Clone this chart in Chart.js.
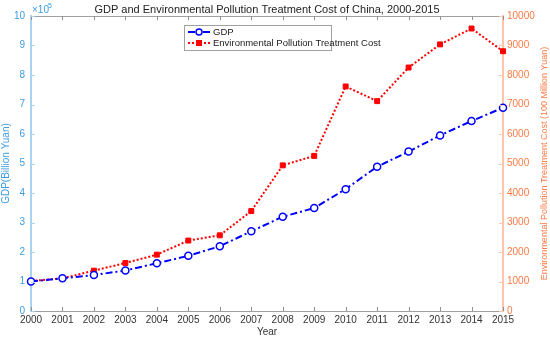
<!DOCTYPE html>
<html>
<head>
<meta charset="utf-8">
<script src="https://cdn.jsdelivr.net/npm/chart.js@4"></script>
<style>
  html, body { margin: 0; padding: 0; background: #fff; }
  #wrap { width: 550px; height: 339px; position: relative; }
</style>
</head>
<body>
<div id="wrap"><canvas id="chart"></canvas></div>
<script>
const years = ['2000','2001','2002','2003','2004','2005','2006','2007','2008','2009','2010','2011','2012','2013','2014','2015'];
const gdp = [100280, 110863, 121717, 137422, 161840, 187319, 219439, 270232, 319516, 349081, 413030, 489301, 540367, 595244, 643974, 689052];
const pollutionCost = [1015, 1107, 1367, 1628, 1910, 2388, 2566, 3387, 4937, 5258, 7612, 7114, 8254, 9037, 9576, 8806];
const gdpTicks = [0, 1, 2, 3, 4, 5, 6, 7, 8, 9, 10];
const costTicks = [0, 1000, 2000, 3000, 4000, 5000, 6000, 7000, 8000, 9000, 10000];

const leftCol = '#3d9de0';
const leftLine = '#a8d4f2';
const rightCol = '#ff7a45';
const rightLine = '#ffc4aa';
const greyCol = '#333333';
const FONT = '"Liberation Sans", Arial, sans-serif';

// inward ticks, box top, titles and legend, MATLAB style
const boxPlugin = {
  id: 'box',
  afterDraw(chart) {
    const ctx = chart.ctx;
    const a = chart.chartArea;
    const x = chart.scales.x, yl = chart.scales.y, yr = chart.scales.y1;
    ctx.save();
    ctx.lineWidth = 1;
    ctx.strokeStyle = '#a0a0a0';
    ctx.beginPath();
    ctx.moveTo(a.left, a.top + 0.5); ctx.lineTo(a.right, a.top + 0.5);
    ctx.stroke();
    ctx.strokeStyle = '#909090';
    x.ticks.forEach((t, i) => {
      const px = Math.round(x.getPixelForTick(i)) + 0.5;
      ctx.beginPath();
      ctx.moveTo(px, a.bottom); ctx.lineTo(px, a.bottom - 4);
      ctx.moveTo(px, a.top); ctx.lineTo(px, a.top + 4);
      ctx.stroke();
    });
    ctx.strokeStyle = leftLine;
    yl.ticks.forEach((t, i) => {
      const py = Math.round(yl.getPixelForTick(i)) + 0.5;
      ctx.beginPath(); ctx.moveTo(a.left, py); ctx.lineTo(a.left + 4, py); ctx.stroke();
    });
    ctx.strokeStyle = rightLine;
    yr.ticks.forEach((t, i) => {
      const py = Math.round(yr.getPixelForTick(i)) + 0.5;
      ctx.beginPath(); ctx.moveTo(a.right, py); ctx.lineTo(a.right - 4, py); ctx.stroke();
    });
    // exponent label
    ctx.fillStyle = leftCol;
    ctx.font = '10px ' + FONT;
    ctx.textBaseline = 'alphabetic';
    ctx.textAlign = 'left';
    ctx.fillText('\u00d710', a.left + 1, a.top - 3);
    ctx.font = '7px ' + FONT;
    ctx.fillText('5', a.left + 17, a.top - 8);
    // right axis title, reading bottom to top
    ctx.save();
    ctx.translate(545, (a.top + a.bottom) / 2);
    ctx.rotate(-Math.PI / 2);
    ctx.fillStyle = rightCol;
    ctx.font = '9px ' + FONT;
    ctx.textAlign = 'center';
    ctx.textBaseline = 'middle';
    ctx.fillText('Environmental Pollution Treatment Cost (100 Million Yuan)', 0, 0);
    ctx.restore();
    // title
    ctx.fillStyle = '#222';
    ctx.font = '11px ' + FONT;
    ctx.textAlign = 'center';
    ctx.textBaseline = 'alphabetic';
    ctx.fillText('GDP and Environmental Pollution Treatment Cost of China, 2000-2015', (a.left + a.right) / 2, 13);
    // legend
    const lx = 184, ly = 25, lw = 147, lh = 25;
    ctx.fillStyle = '#fff';
    ctx.fillRect(lx, ly, lw, lh);
    ctx.strokeStyle = '#a0a0a0';
    ctx.strokeRect(lx + 0.5, ly + 0.5, lw, lh);
    chart.data.datasets.forEach((ds, i) => {
      const cy = ly + 7 + i * 11;
      ctx.strokeStyle = ds.borderColor;
      ctx.lineWidth = 2;
      ctx.setLineDash(ds.borderDash);
      ctx.beginPath(); ctx.moveTo(lx + 4, cy); ctx.lineTo(lx + 26, cy); ctx.stroke();
      ctx.setLineDash([]);
      ctx.lineWidth = 1.5;
      if (ds.pointStyle === 'circle') {
        ctx.fillStyle = '#fff';
        ctx.beginPath(); ctx.arc(lx + 15, cy, 3, 0, Math.PI * 2); ctx.fill(); ctx.stroke();
      } else {
        ctx.fillStyle = ds.pointBackgroundColor;
        ctx.fillRect(lx + 12, cy - 3, 6, 6);
      }
      ctx.fillStyle = '#222';
      ctx.font = '9.5px ' + FONT;
      ctx.textAlign = 'left';
      ctx.textBaseline = 'middle';
      ctx.fillText(ds.label, lx + 29, cy + 0.5);
    });
    ctx.restore();
  }
};

new Chart(document.getElementById('chart'), {
  type: 'line',
  data: {
    labels: years,
    datasets: [{
      label: 'GDP',
      data: gdp.map(v => v / 1e5),
      yAxisID: 'y',
      borderColor: '#0000ff',
      backgroundColor: '#ffffff',
      borderWidth: 2,
      borderDash: [7, 3, 2, 3],
      pointStyle: 'circle',
      pointRadius: 3.5,
      pointBorderWidth: 1.5,
      pointBackgroundColor: '#ffffff',
      pointBorderColor: '#0000ff',
      tension: 0
    }, {
      label: 'Environmental Pollution Treatment Cost',
      data: pollutionCost,
      yAxisID: 'y1',
      borderColor: '#ff0000',
      backgroundColor: '#ff0000',
      borderWidth: 2,
      borderDash: [2, 2],
      pointStyle: 'rect',
      pointRadius: 3.5,
      pointBorderWidth: 1,
      pointBackgroundColor: '#ff0000',
      pointBorderColor: '#ff0000',
      tension: 0
    }]
  },
  options: {
    responsive: true,
    maintainAspectRatio: false,
    animation: false,
    layout: { padding: { top: 16, left: 0, right: 0, bottom: 1 } },
    plugins: { legend: { display: false }, title: { display: false }, tooltip: { enabled: false } },
    scales: {
      x: {
        offset: false,
        afterFit: s => { s.height = 27; },
        grid: { display: true, drawOnChartArea: false, drawTicks: false },
        border: { color: '#a0a0a0' },
        ticks: { color: greyCol, font: { size: 10, family: FONT }, padding: 3, maxRotation: 0, autoSkip: false },
        title: { display: true, text: 'Year', color: greyCol, font: { size: 10, family: FONT }, padding: { top: 0, bottom: 0 } }
      },
      y: {
        position: 'left',
        min: 0, max: 10,
        afterBuildTicks: s => { s.ticks = gdpTicks.map(v => ({ value: v })); },
        afterFit: s => { s.width = 31; },
        grid: { drawOnChartArea: false, drawTicks: false },
        border: { color: leftLine, width: 2 },
        ticks: { color: leftCol, font: { size: 10, family: FONT }, padding: 6 },
        title: { display: true, text: 'GDP(Billion Yuan)', color: leftCol, font: { size: 10, family: FONT }, padding: { top: 0, bottom: 0 } }
      },
      y1: {
        position: 'right',
        min: 0, max: 10000,
        afterBuildTicks: s => { s.ticks = costTicks.map(v => ({ value: v })); },
        afterFit: s => { s.width = 47; },
        grid: { drawOnChartArea: false, drawTicks: false },
        border: { color: rightLine, width: 2 },
        ticks: { color: rightCol, font: { size: 10, family: FONT }, padding: 4, callback: v => String(v) }
      }
    }
  },
  plugins: [boxPlugin]
});
</script>
</body>
</html>
